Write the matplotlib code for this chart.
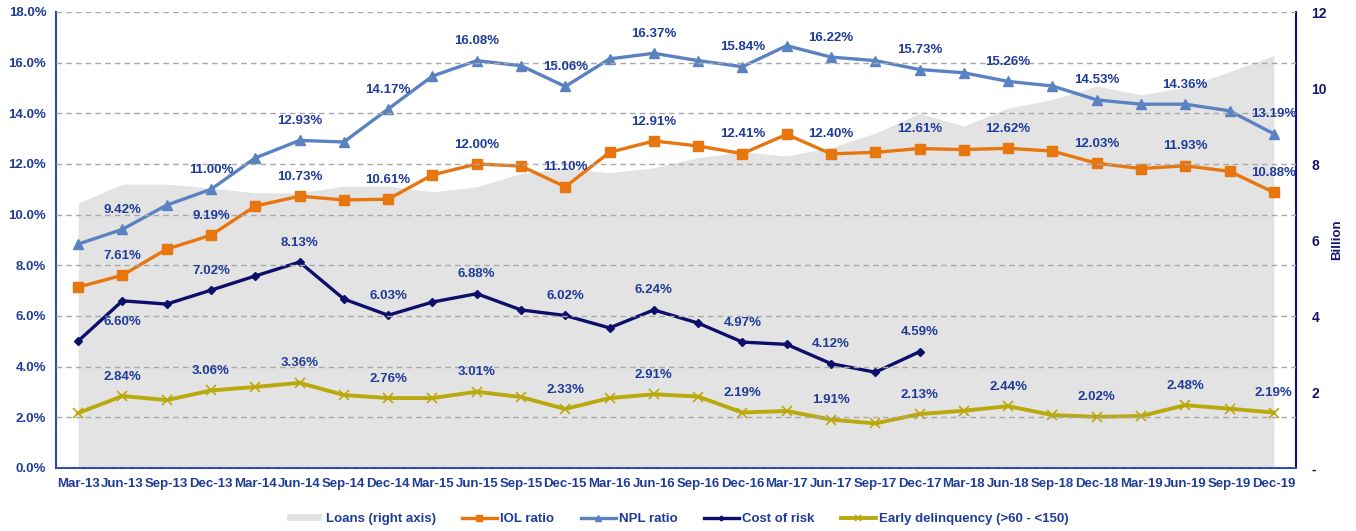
import numpy as np
import matplotlib
matplotlib.use("Agg")
import matplotlib.pyplot as plt
from matplotlib.ticker import FuncFormatter, MultipleLocator

plt.rcParams['font.family'] = ['Liberation Sans', 'DejaVu Sans']
plt.rcParams['font.weight'] = 'bold'

quarters = ['Mar-13', 'Jun-13', 'Sep-13', 'Dec-13', 'Mar-14', 'Jun-14', 'Sep-14', 'Dec-14',
            'Mar-15', 'Jun-15', 'Sep-15', 'Dec-15', 'Mar-16', 'Jun-16', 'Sep-16', 'Dec-16',
            'Mar-17', 'Jun-17', 'Sep-17', 'Dec-17', 'Mar-18', 'Jun-18', 'Sep-18', 'Dec-18',
            'Mar-19', 'Jun-19', 'Sep-19', 'Dec-19']

# loans in billion (right axis)
loans = [6.97, 7.47, 7.47, 7.37, 7.24, 7.24, 7.42, 7.42, 7.27, 7.40, 7.75, 7.89, 7.77, 7.90,
         8.17, 8.32, 8.21, 8.43, 8.81, 9.33, 9.00, 9.47, 9.70, 10.05, 9.82, 10.02, 10.43, 10.85]

# ratios in percent (left axis)
iol = [7.14, 7.61, 8.64, 9.19, 10.34, 10.73, 10.58, 10.61, 11.57, 12.00, 11.92, 11.10, 12.46, 12.91,
       12.71, 12.41, 13.17, 12.40, 12.46, 12.61, 12.57, 12.62, 12.51, 12.03, 11.82, 11.93, 11.71, 10.88]
npl = [8.84, 9.42, 10.38, 11.00, 12.24, 12.93, 12.87, 14.17, 15.47, 16.08, 15.88, 15.06, 16.15, 16.37,
       16.08, 15.84, 16.67, 16.22, 16.08, 15.73, 15.60, 15.26, 15.08, 14.53, 14.36, 14.36, 14.10, 13.19]
cost_of_risk = [5.01, 6.60, 6.47, 7.02, 7.58, 8.13, 6.67, 6.03, 6.55, 6.88, 6.24, 6.02, 5.53, 6.24,
                5.72, 4.97, 4.88, 4.12, 3.78, 4.59]
early_delinq = [2.17, 2.84, 2.68, 3.06, 3.20, 3.36, 2.88, 2.76, 2.76, 3.01, 2.80, 2.33, 2.76, 2.91,
                2.82, 2.19, 2.25, 1.91, 1.76, 2.13, 2.26, 2.44, 2.09, 2.02, 2.05, 2.48, 2.34, 2.19]

txt = '#1F3C98'
navy_txt = '#14166A'
c_loans = '#E3E3E3'
c_iol = '#E8760F'
c_npl = '#5A82C2'
c_cor = '#0D0D6B'
c_ed = '#B9A90D'
fs = 9.5

fig = plt.figure(figsize=(13.56, 5.31), dpi=100)
ax = fig.add_axes([56/1356, 1-468/531, 1240/1356, 456/531])
ax2 = ax.twinx()
ax.set_zorder(ax2.get_zorder() + 1)
ax.patch.set_visible(False)

x = np.arange(len(quarters))
area = ax2.fill_between(x, 0, loans, color=c_loans, lw=0, label='Loans (right axis)')

l_iol, = ax.plot(x, iol, color=c_iol, lw=2.4, marker='s', ms=7, label='IOL ratio')
l_npl, = ax.plot(x, npl, color=c_npl, lw=2.4, marker='^', ms=7.5, label='NPL ratio')
l_cor, = ax.plot(x[:len(cost_of_risk)], cost_of_risk, color=c_cor, lw=2.4, marker='D', ms=4.5,
                 label='Cost of risk')
l_ed, = ax.plot(x, early_delinq, color=c_ed, lw=2.8, marker='x', ms=7, mew=1.2,
                label='Early delinquency (>60 - <150)')

def label_series(vals, below=()):
    for i in range(1, len(vals), 2):
        dy = -15 if i in below else 14
        ax.annotate(f'{vals[i]:.2f}%', (x[i], vals[i]), xytext=(0, dy), textcoords='offset points',
                    ha='center', va='center', color=txt, fontsize=fs, fontweight='bold')

label_series(npl)
label_series(iol)
label_series(cost_of_risk, below=(1,))
label_series(early_delinq)

ax.set_xlim(-0.5, len(quarters) - 0.5)
ax.set_ylim(0, 18)
ax2.set_ylim(0, 12)
ax.yaxis.set_major_locator(MultipleLocator(2))
ax.yaxis.set_major_formatter(FuncFormatter(lambda v, p: f'{v:.1f}%'))
ax2.yaxis.set_major_locator(MultipleLocator(2))
ax2.yaxis.set_major_formatter(FuncFormatter(lambda v, p: '-' if v == 0 else f'{v:.0f}'))

ax.set_xticks(x)
ax.set_xticklabels(quarters)
ax.tick_params(axis='x', length=0, pad=7, labelsize=fs, labelcolor=txt)
ax.tick_params(axis='y', length=0, pad=7, labelsize=fs, labelcolor=txt)
ax2.tick_params(axis='y', length=0, pad=11, labelsize=fs + 0.5, labelcolor=navy_txt)

ax.grid(axis='y', color='#A8A8A8', ls=(0, (4, 3)), lw=1.0)
ax.set_axisbelow(False)

for a in (ax, ax2):
    a.spines['top'].set_visible(False)
ax.spines['right'].set_visible(False)
ax2.spines['left'].set_visible(False)
ax2.spines['bottom'].set_visible(False)
ax.spines['left'].set_color('#2A4BA8')
ax.spines['left'].set_linewidth(1.5)
ax.spines['bottom'].set_color('#2A4BA8')
ax.spines['bottom'].set_linewidth(1.5)
ax2.spines['right'].set_color('#10107A')
ax2.spines['right'].set_linewidth(1.5)

ax2.set_ylabel('Billion', color=navy_txt, fontsize=fs, fontweight='bold', labelpad=3)

fig.legend(handles=[area, l_iol, l_npl, l_cor, l_ed], loc='center', bbox_to_anchor=(0.5, 1 - 519/531),
           ncol=5, frameon=False, fontsize=fs, labelcolor=txt, handlelength=2.65, handleheight=0.45,
           handletextpad=0.25, columnspacing=2.0, markerscale=0.55)

fig.savefig('out.png', dpi=100)
